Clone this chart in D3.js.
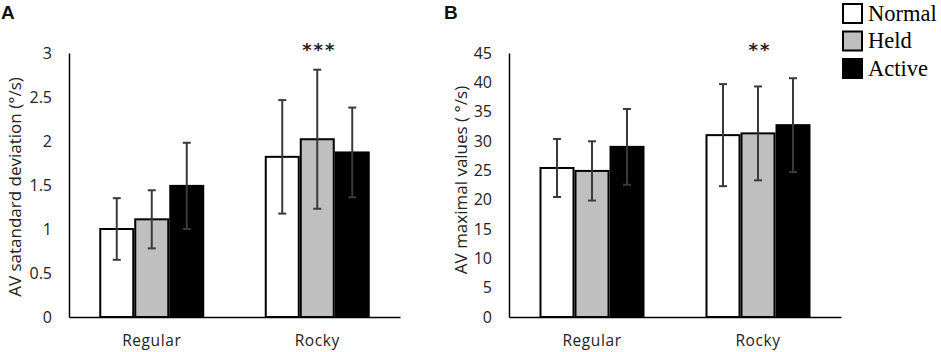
<!DOCTYPE html>
<html>
<head>
<meta charset="utf-8">
<script src="https://cdn.jsdelivr.net/npm/d3@7"></script>
<style>
  body { margin: 0; background: #fff; }
  svg { display: block; }
</style>
</head>
<body>
<svg id="chart" width="941" height="352"></svg>
<script>
// Data
const categories = ["Regular", "Rocky"];
const conditions = ["Normal", "Held", "Active"];
const colors = ["#ffffff", "#bfbfbf", "#000000"];

// Panel A: AV standard deviation (°/s), [category][condition]
const sdMeans = [[1.00, 1.11, 1.49], [1.82, 2.02, 1.87]];
const sdErrors = [[0.35, 0.33, 0.49], [0.645, 0.79, 0.51]];
const sdTicks = [0, 0.5, 1, 1.5, 2, 2.5, 3];

// Panel B: AV maximal values (°/s)
const maxMeans = [[25.4, 24.9, 29.0], [31.0, 31.3, 32.7]];
const maxErrors = [[4.95, 5.05, 6.45], [8.7, 8.0, 8.0]];
const maxTicks = [0, 5, 10, 15, 20, 25, 30, 35, 40, 45];

const svg = d3.select("#chart");
const tickFont = "'Open Sans', sans-serif";

function drawPanel(opts) {
  const { left, right, top, bottom, means, errors, ticks, yMax, label, letter, letterX, stars } = opts;

  const x = d3.scaleBand().domain(categories).range([left, right]);
  const y = d3.scaleLinear().domain([0, yMax]).range([bottom, top]);

  const g = svg.append("g");

  // y axis (no tick marks, just labels)
  const yAxis = g.append("g")
    .attr("transform", `translate(${left},0)`)
    .call(d3.axisLeft(y).tickValues(ticks).tickSize(0).tickPadding(17).tickFormat(d3.format("")));
  yAxis.select(".domain").attr("stroke", "#000").attr("stroke-width", 1.5);
  yAxis.selectAll("text")
    .attr("font-family", tickFont).attr("font-size", 16).attr("fill", "#222");

  // x axis
  const xAxis = g.append("g")
    .attr("transform", `translate(0,${bottom})`)
    .call(d3.axisBottom(x).tickSize(0).tickPadding(18));
  xAxis.select(".domain").attr("stroke", "#000").attr("stroke-width", 1.5);
  xAxis.selectAll("text")
    .attr("font-family", tickFont).attr("font-size", 15.5).attr("fill", "#222")
    .attr("letter-spacing", 0.6);

  const barW = 33, gap = 2;
  const groupW = conditions.length * barW + (conditions.length - 1) * gap;
  const bx = (ci, k) => x(categories[ci]) + x.bandwidth() / 2 - groupW / 2 + k * (barW + gap);

  categories.forEach((cat, ci) => {
    conditions.forEach((cond, k) => {
      const v = means[ci][k];
      g.append("rect")
        .attr("x", bx(ci, k))
        .attr("y", y(v))
        .attr("width", barW)
        .attr("height", y(0) - y(v))
        .attr("fill", colors[k])
        .attr("stroke", "#000")
        .attr("stroke-width", 2);
    });
  });

  // error bars
  categories.forEach((cat, ci) => {
    conditions.forEach((cond, k) => {
      const v = means[ci][k], e = errors[ci][k];
      const cx = bx(ci, k) + barW / 2;
      const eg = g.append("g").attr("stroke", "#3a3a3a").attr("stroke-width", 2);
      eg.append("line").attr("x1", cx).attr("x2", cx).attr("y1", y(v + e)).attr("y2", y(v - e));
      eg.append("line").attr("x1", cx - 4).attr("x2", cx + 4).attr("y1", y(v + e)).attr("y2", y(v + e));
      eg.append("line").attr("x1", cx - 4).attr("x2", cx + 4).attr("y1", y(v - e)).attr("y2", y(v - e));
    });
  });

  // significance stars over Rocky
  g.append("text")
    .attr("x", x("Rocky") + x.bandwidth() / 2 + 2)
    .attr("y", 56)
    .attr("text-anchor", "middle")
    .attr("font-family", "'DejaVu Sans', sans-serif")
    .attr("font-size", 18)
    .attr("font-weight", "bold")
    .attr("letter-spacing", 2)
    .attr("fill", "#222")
    .text(stars);

  // y label
  g.append("text")
    .attr("transform", "rotate(-90)")
    .attr("x", -opts.labelY)
    .attr("y", opts.labelX)
    .attr("text-anchor", "middle")
    .attr("dominant-baseline", "middle")
    .attr("font-family", tickFont)
    .attr("font-size", 17)
    .attr("fill", "#222")
    .text(label);

  // panel letter
  svg.append("text")
    .attr("x", letterX)
    .attr("y", 19)
    .attr("font-family", "'Liberation Sans', Arial, sans-serif")
    .attr("font-weight", "bold")
    .attr("font-size", 19)
    .attr("fill", "#111")
    .text(letter);
}

drawPanel({
  left: 69, right: 400, top: 53, bottom: 317,
  means: sdMeans, errors: sdErrors, ticks: sdTicks, yMax: 3,
  label: "AV satandard deviation (°/s)", labelX: 16, labelY: 187,
  letter: "A", letterX: 1, stars: "***"
});

drawPanel({
  left: 509, right: 841, top: 53, bottom: 317,
  means: maxMeans, errors: maxErrors, ticks: maxTicks, yMax: 45,
  label: "AV maximal values ( °/s)", labelX: 462, labelY: 180,
  letter: "B", letterX: 444, stars: "**"
});

// legend
const legend = svg.append("g").attr("transform", "translate(842,3)");
conditions.forEach((cond, k) => {
  const row = legend.append("g").attr("transform", `translate(0,${k * 27.5})`);
  row.append("rect")
    .attr("x", 1).attr("y", 1).attr("width", 19).attr("height", 19)
    .attr("fill", colors[k]).attr("stroke", "#000").attr("stroke-width", 2);
  row.append("text")
    .attr("x", 26).attr("y", 17.5)
    .attr("font-family", "'Liberation Serif', 'Times New Roman', serif")
    .attr("font-size", 22.5)
    .attr("fill", "#000")
    .text(cond);
});
</script>
</body>
</html>
